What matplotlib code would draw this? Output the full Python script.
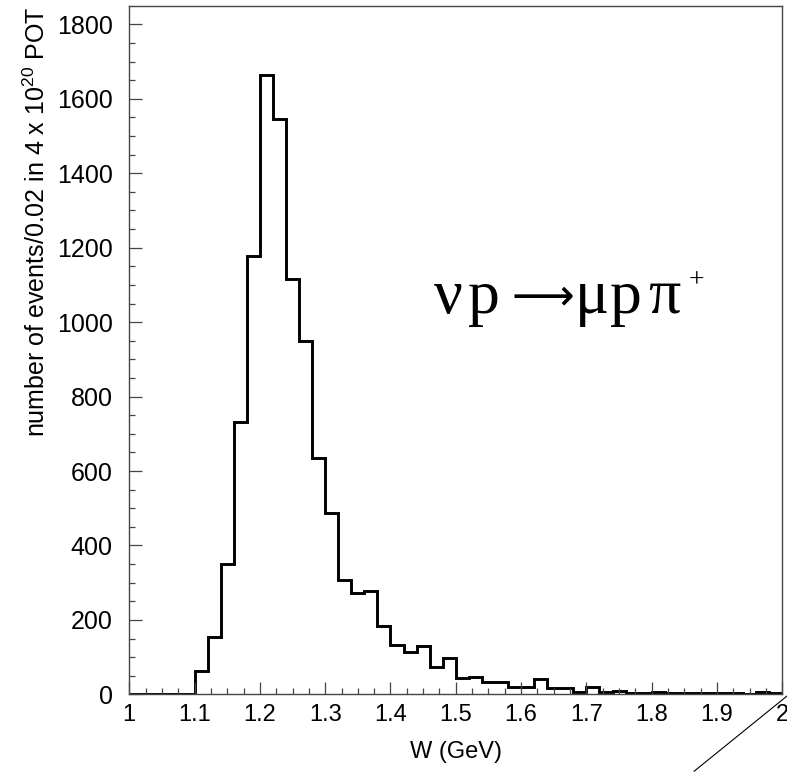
#!/usr/bin/env python3
"""W distribution for nu p -> mu p pi+ (events per 0.02 GeV bin, 4e20 POT)."""

import numpy as np
import matplotlib
matplotlib.use("Agg")
import matplotlib.pyplot as plt
from matplotlib.lines import Line2D
from matplotlib.ticker import MultipleLocator, FuncFormatter

# bins of 0.02 GeV from W = 1.0 to 2.0
w_lo, w_hi, w_step = 1.0, 2.0, 0.02
counts = [0, 0, 0, 0, 0,
          64, 153, 351, 732, 1178, 1663, 1545, 1116, 948, 634,
          488, 306, 273, 277, 183, 133, 113, 130, 73, 98,
          43, 46, 34, 32, 21, 21, 41, 18, 18, 7,
          21, 5, 8, 4, 4, 6, 3, 3, 4, 3,
          3, 3, 2, 5, 3]
x_ticks = [1.0, 1.1, 1.2, 1.3, 1.4, 1.5, 1.6, 1.7, 1.8, 1.9, 2.0]
y_ticks = [0, 200, 400, 600, 800, 1000, 1200, 1400, 1600, 1800]

plt.rcParams["font.family"] = ["Liberation Sans", "DejaVu Sans"]
plt.rcParams["mathtext.fontset"] = "custom"
plt.rcParams["mathtext.rm"] = "Liberation Sans"

fig = plt.figure(figsize=(7.87, 7.72), dpi=100)
ax = fig.add_axes([0.1643, 0.1006, 0.8297, 0.891])

edges = np.linspace(w_lo, w_hi, len(counts) + 1)
ax.stairs(counts, edges, color="black", lw=2.1, baseline=0)

ax.set_xlim(w_lo, w_hi)
ax.set_ylim(0, 1848)
ax.set_xticks(x_ticks)
ax.set_yticks(y_ticks)
ax.xaxis.set_minor_locator(MultipleLocator(0.025))
ax.yaxis.set_minor_locator(MultipleLocator(50))
ax.xaxis.set_major_formatter(FuncFormatter(lambda v, _: f"{v:g}"))

frame_c = "#444444"
for s in ax.spines.values():
    s.set_color(frame_c)
    s.set_linewidth(1.0)
ax.tick_params(which="both", direction="in", color=frame_c, width=0.9)
ax.tick_params(which="major", length=9)
ax.tick_params(which="minor", length=4.5)
ax.tick_params(axis="x", which="major", labelsize=17, pad=7)
ax.tick_params(axis="y", which="major", labelsize=18, pad=12)
for lab in ax.get_xticklabels():
    lab.set_clip_on(False)

ax.set_xlabel("W (GeV)", fontsize=17, labelpad=11)
ax.set_ylabel("number of events/0.02 in 4 x 10$^{\\mathregular{20}}$ POT",
              fontsize=18, loc="top", labelpad=5)

# reaction label, set glyph by glyph to get the wide spacing of the original
serif = ["Liberation Serif", "DejaVu Serif", "DejaVu Sans"]
base_y = 0.5544
glyphs = [("\u03bd", 0.466), ("p", 0.519), ("\u03bc", 0.683),
          ("p", 0.736), ("\u03c0", 0.795)]
for g, gx in glyphs:
    ax.text(gx, base_y, g, transform=ax.transAxes, fontsize=46,
            va="baseline", ha="left", family=serif)
ax.text(0.585, base_y + 0.005, "\u27f6", transform=ax.transAxes,
        fontsize=31.5, va="baseline", ha="left", family=["DejaVu Sans"])
ax.text(0.856, 0.601, "+", transform=ax.transAxes, fontsize=20,
        va="center", ha="left", family=serif)

# stray diagonal stroke in the lower-right corner of the scan
fig.add_artist(Line2D([0.882, 1.0], [0.001, 0.0984], color="black", lw=0.8,
                      transform=fig.transFigure))

fig.savefig("out.png", dpi=100)
